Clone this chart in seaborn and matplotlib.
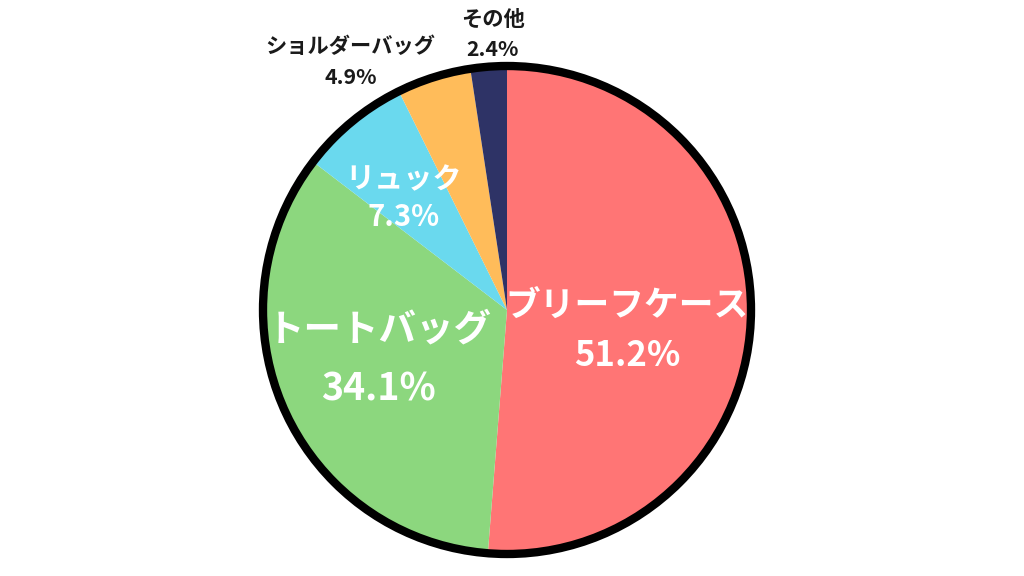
import matplotlib
matplotlib.use("Agg")
import matplotlib.pyplot as plt
import numpy as np
import seaborn as sns

# bag type share (%)
categories = ['ブリーフケース', 'トートバッグ', 'リュック', 'ショルダーバッグ', 'その他']
shares = [51.2, 34.1, 7.3, 4.9, 2.4]
colors = ['#FF7575', '#8CD77E', '#6AD9EE', '#FFBC5A', '#2E3366']

sns.set_theme(style='white')
plt.rcParams['font.family'] = ['Noto Sans CJK JP', 'DejaVu Sans']

fig = plt.figure(figsize=(10.24, 5.76), dpi=100)
ax = fig.add_axes([0, 0, 1, 1])

wedges, _ = ax.pie(shares, colors=colors, startangle=90, counterclock=False,
                   radius=1, wedgeprops=dict(linewidth=0))

# black outer ring
ring = plt.Circle((0, 0), 1.0, fill=False, edgecolor='black', linewidth=6)
ax.add_patch(ring)

# label placement per slice: distance from centre, angle shift, size, colour
label_r = [0.50, 0.563, 0.623, 1.203, 1.129]
angle_shift = [-7.3, -3, 3.3, 14.7, -1.4]
sizes = [25, 27, 21, 15.3, 15.3]
text_colors = ['white', 'white', 'white', '#1a1a1a', '#1a1a1a']
line_gap = [0.205, 0.246, 0.156, 0.127, 0.123]

for w, cat, val, r, sh, fs, tc, gap in zip(wedges, categories, shares, label_r,
                                          angle_shift, sizes, text_colors, line_gap):
    mid = np.deg2rad((w.theta1 + w.theta2) / 2 + sh)
    x, y = r * np.cos(mid), r * np.sin(mid)
    ax.text(x, y + gap / 2, cat, ha='center', va='center', fontsize=fs,
            fontweight='bold', color=tc)
    ax.text(x, y - gap / 2, f'{val}%', ha='center', va='center', fontsize=fs,
            fontweight='bold', color=tc)

ax.set_xlim(-507 / 244, 517 / 244)
ax.set_ylim(-266 / 244, 310 / 244)
ax.set_aspect('equal')
ax.axis('off')

fig.savefig('out.png', dpi=100)
